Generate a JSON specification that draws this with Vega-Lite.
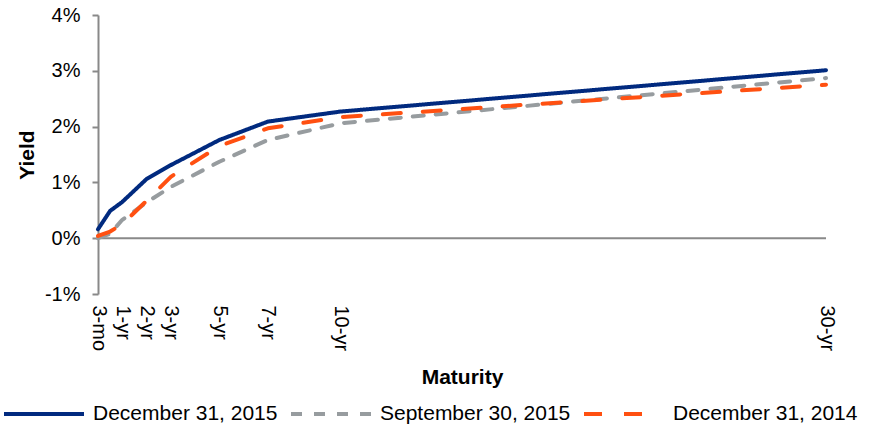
{
  "$schema": "https://vega.github.io/schema/vega-lite/v6.json",
  "width": 728,
  "height": 279,
  "autosize": "none",
  "padding": {"left": 98, "top": 15, "right": 51, "bottom": 135},
  "config": {"font": "Liberation Sans", "view": {"stroke": null}},
  "datasets": {
    "curves": [
      {"series": "December 31, 2015", "maturity": "3-mo", "x": 0, "yield": 0.16},
      {"series": "December 31, 2015", "maturity": "6-mo", "x": 0.5, "yield": 0.49},
      {"series": "December 31, 2015", "maturity": "1-yr", "x": 1, "yield": 0.65},
      {"series": "December 31, 2015", "maturity": "2-yr", "x": 2, "yield": 1.06},
      {"series": "December 31, 2015", "maturity": "3-yr", "x": 3, "yield": 1.31},
      {"series": "December 31, 2015", "maturity": "5-yr", "x": 5, "yield": 1.76},
      {"series": "December 31, 2015", "maturity": "7-yr", "x": 7, "yield": 2.09},
      {"series": "December 31, 2015", "maturity": "10-yr", "x": 10, "yield": 2.27},
      {"series": "December 31, 2015", "maturity": "30-yr", "x": 30, "yield": 3.01},
      {"series": "September 30, 2015", "maturity": "3-mo", "x": 0, "yield": 0.0},
      {"series": "September 30, 2015", "maturity": "6-mo", "x": 0.5, "yield": 0.08},
      {"series": "September 30, 2015", "maturity": "1-yr", "x": 1, "yield": 0.33},
      {"series": "September 30, 2015", "maturity": "2-yr", "x": 2, "yield": 0.64},
      {"series": "September 30, 2015", "maturity": "3-yr", "x": 3, "yield": 0.92},
      {"series": "September 30, 2015", "maturity": "5-yr", "x": 5, "yield": 1.37},
      {"series": "September 30, 2015", "maturity": "7-yr", "x": 7, "yield": 1.76},
      {"series": "September 30, 2015", "maturity": "10-yr", "x": 10, "yield": 2.06},
      {"series": "September 30, 2015", "maturity": "30-yr", "x": 30, "yield": 2.87},
      {"series": "December 31, 2014", "maturity": "3-mo", "x": 0, "yield": 0.04},
      {"series": "December 31, 2014", "maturity": "6-mo", "x": 0.5, "yield": 0.12},
      {"series": "December 31, 2014", "maturity": "1-yr", "x": 1, "yield": 0.25},
      {"series": "December 31, 2014", "maturity": "2-yr", "x": 2, "yield": 0.67},
      {"series": "December 31, 2014", "maturity": "3-yr", "x": 3, "yield": 1.1},
      {"series": "December 31, 2014", "maturity": "5-yr", "x": 5, "yield": 1.65},
      {"series": "December 31, 2014", "maturity": "7-yr", "x": 7, "yield": 1.97},
      {"series": "December 31, 2014", "maturity": "10-yr", "x": 10, "yield": 2.17},
      {"series": "December 31, 2014", "maturity": "30-yr", "x": 30, "yield": 2.75}
    ]
  },
  "layer": [
    {
      "data": {"values": [{"y": 0}]},
      "mark": {"type": "rule", "color": "#898989", "strokeWidth": 2},
      "encoding": {"y": {"field": "y", "type": "quantitative"}}
    },
    {
      "data": {"name": "curves"},
      "mark": {"type": "line", "strokeWidth": 4, "strokeCap": "round", "strokeJoin": "round"},
      "encoding": {
        "x": {
          "field": "x",
          "type": "quantitative",
          "scale": {"domain": [0, 30], "nice": false, "zero": false},
          "axis": {
            "values": [0, 1, 2, 3, 5, 7, 10, 30],
            "labelExpr": "datum.value == 0 ? '3-mo' : datum.value + '-yr'",
            "labelAngle": 90,
            "labelAlign": "left",
            "labelBaseline": "middle",
            "labelFontSize": 20,
            "labelColor": "#000000",
            "labelPadding": 11,
            "labelOverlap": false,
            "labelBound": false,
            "labelFlush": false,
            "domain": false,
            "ticks": false,
            "grid": false,
            "title": "Maturity",
            "titleFontSize": 21,
            "titleFontWeight": "bold",
            "titleColor": "#000000",
            "titlePadding": 16
          }
        },
        "y": {
          "field": "yield",
          "type": "quantitative",
          "scale": {"domain": [-1, 4], "nice": false, "zero": false},
          "axis": {
            "values": [-1, 0, 1, 2, 3, 4],
            "labelExpr": "datum.value + '%'",
            "labelFontSize": 20,
            "labelColor": "#000000",
            "labelPadding": 12,
            "domainColor": "#898989",
            "domainWidth": 2,
            "tickColor": "#898989",
            "tickWidth": 2,
            "tickSize": 6,
            "grid": false,
            "title": "Yield",
            "titleFontSize": 21,
            "titleFontWeight": "bold",
            "titleColor": "#000000",
            "titlePadding": 7
          }
        },
        "color": {
          "field": "series",
          "type": "nominal",
          "scale": {
            "domain": ["December 31, 2015", "September 30, 2015", "December 31, 2014"],
            "range": ["#012a7f", "#979c9f", "#ff5011"]
          },
          "legend": {
            "orient": "none",
            "legendX": -96,
            "legendY": 357,
            "direction": "horizontal",
            "title": null,
            "symbolType": "stroke",
            "symbolSize": 6400,
            "symbolStrokeWidth": 4,
            "labelFontSize": 21,
            "labelColor": "#000000",
            "labelOffset": 7,
            "columnPadding": 5,
            "labelLimit": 400
          }
        },
        "strokeDash": {
          "field": "series",
          "type": "nominal",
          "scale": {
            "domain": ["December 31, 2015", "September 30, 2015", "December 31, 2014"],
            "range": [[1, 0], [11, 12], [18, 22]]
          },
          "legend": null
        }
      }
    }
  ]
}
